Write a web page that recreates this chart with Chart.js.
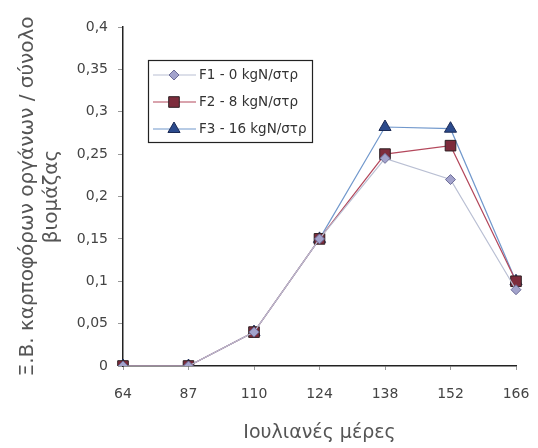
<!DOCTYPE html>
<html>
<head>
<meta charset="utf-8">
<script src="https://cdn.jsdelivr.net/npm/chart.js@4/dist/chart.umd.min.js"></script>
<style>
  html, body { margin: 0; padding: 0; background: #fff; }
  #wrap { width: 538px; height: 448px; }
</style>
</head>
<body>
<div id="wrap"><canvas id="c" width="538" height="448"></canvas></div>
<script>
// Julian days of sampling
const days = ['64', '87', '110', '124', '138', '152', '166'];
// Fruiting-organ dry weight / total biomass, per nitrogen treatment
const f1 = [0, 0, 0.04, 0.15, 0.245, 0.22, 0.09];
const f2 = [0, 0, 0.04, 0.15, 0.25, 0.26, 0.10];
const f3 = [0, 0, 0.04, 0.15, 0.282, 0.28, 0.10];
const seriesNames = ['F1 - 0 kgN/στρ', 'F2 - 8 kgN/στρ', 'F3 - 16 kgN/στρ'];
const yTickLabels = ['0', '0,05', '0,1', '0,15', '0,2', '0,25', '0,3', '0,35', '0,4'];
const yTitle = ['Ξ.Β. καρποφόρων οργάνων / σύνολο', 'βιομάζας'];
const xTitle = 'Ιουλιανές μέρες';

const FONT = '"DejaVu Sans", Verdana, sans-serif';

function marker(ctx, style, r, x, y) {
  ctx.beginPath();
  if (style === 'rect') {
    const s = r * Math.SQRT1_2;
    ctx.rect(x - s, y - s, 2 * s, 2 * s);
  } else if (style === 'rectRot') {
    ctx.moveTo(x, y - r); ctx.lineTo(x + r, y); ctx.lineTo(x, y + r); ctx.lineTo(x - r, y);
    ctx.closePath();
  } else {
    let a = 0;
    ctx.moveTo(x + Math.sin(a) * r, y - Math.cos(a) * r);
    a += 2 * Math.PI / 3;
    ctx.lineTo(x + Math.sin(a) * r, y - Math.cos(a) * r);
    a += 2 * Math.PI / 3;
    ctx.lineTo(x + Math.sin(a) * r, y - Math.cos(a) * r);
    ctx.closePath();
  }
  ctx.fill();
  ctx.stroke();
}

// Framed legend with line + marker samples
const boxLegend = {
  id: 'boxLegend',
  afterDatasetsDraw(chart) {
    const ctx = chart.ctx;
    const x0 = 148, y0 = 60, w = 164, h = 82;
    ctx.save();
    ctx.fillStyle = '#fff';
    ctx.fillRect(x0, y0, w, h);
    ctx.strokeStyle = '#222';
    ctx.lineWidth = 1.2;
    ctx.strokeRect(x0 + 0.5, y0 + 0.5, w, h);
    chart.data.datasets.forEach((ds, i) => {
      const y = y0 + 15 + i * 27;
      ctx.strokeStyle = ds.borderColor;
      ctx.lineWidth = 1.2;
      ctx.beginPath();
      ctx.moveTo(x0 + 5, y);
      ctx.lineTo(x0 + 48, y);
      ctx.stroke();
      ctx.fillStyle = ds.pointBackgroundColor;
      ctx.strokeStyle = ds.pointBorderColor;
      ctx.lineWidth = 1;
      marker(ctx, ds.pointStyle, ds.pointRadius, x0 + 26, y);
      ctx.fillStyle = '#333';
      ctx.font = '13.5px ' + FONT;
      ctx.textBaseline = 'middle';
      ctx.textAlign = 'left';
      ctx.fillText(ds.label, x0 + 51, y);
    });
    ctx.restore();
  }
};

new Chart(document.getElementById('c'), {
  type: 'line',
  data: {
    labels: days,
    datasets: [
      {
        label: seriesNames[0], data: f1,
        borderColor: '#b9bfd3', borderWidth: 1.2,
        pointStyle: 'rectRot', pointRadius: 5,
        pointBackgroundColor: '#a3a3cc', pointBorderColor: '#6c6c96', pointBorderWidth: 1
      },
      {
        label: seriesNames[1], data: f2,
        borderColor: '#b4485c', borderWidth: 1.2,
        pointStyle: 'rect', pointRadius: 7.5,
        pointBackgroundColor: '#7d2c3c', pointBorderColor: '#2e2024', pointBorderWidth: 1
      },
      {
        label: seriesNames[2], data: f3,
        borderColor: '#7198cc', borderWidth: 1.2,
        pointStyle: 'triangle', pointRadius: 7,
        pointBackgroundColor: '#2b4a8c', pointBorderColor: '#1b2a55', pointBorderWidth: 1
      }
    ]
  },
  options: {
    responsive: false,
    devicePixelRatio: 1,
    animation: false,
    layout: { padding: { top: 27, right: 22, left: 0, bottom: 0 } },
    elements: { line: { tension: 0 } },
    plugins: { legend: { display: false }, tooltip: { enabled: false } },
    scales: {
      x: {
        offset: false,
        afterFit: s => { s.height = 82; s.paddingLeft = 0; s.paddingRight = 0; },
        grid: { drawOnChartArea: false, drawTicks: true, tickLength: 4, color: '#999' },
        border: { display: true, color: '#222', width: 1.5 },
        ticks: { color: '#444', font: { family: FONT, size: 14 }, padding: 16, maxRotation: 0 },
        title: {
          display: true, text: xTitle, color: '#555',
          font: { family: FONT, size: 19 }, padding: { top: 0, bottom: 4 }
        }
      },
      y: {
        min: 0, max: 0.4,
        afterFit: s => { s.width = 123; },
        ticks: {
          stepSize: 0.05, color: '#444', font: { family: FONT, size: 14 }, padding: 10,
          callback: (v, i) => yTickLabels[i]
        },
        grid: { drawOnChartArea: false, drawTicks: true, tickLength: 5, color: '#999' },
        border: { display: true, color: '#222', width: 1.5 },
        title: {
          display: true, text: yTitle, color: '#555',
          font: { family: FONT, size: 20, lineHeight: 1.2 }, padding: { top: 16, bottom: 0 }
        }
      }
    }
  },
  plugins: [boxLegend]
});
</script>
</body>
</html>
